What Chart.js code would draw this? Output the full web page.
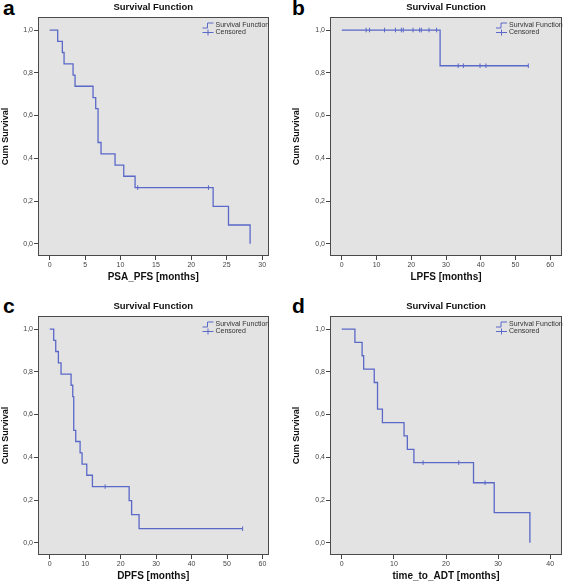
<!DOCTYPE html>
<html>
<head>
<meta charset="utf-8">
<script src="https://cdn.jsdelivr.net/npm/chart.js@4.4.1/dist/chart.umd.min.js"></script>
<style>
  body { margin: 0; background: #fff; overflow: hidden; width: 567px; height: 583px; position: relative; }
  canvas { position: absolute; }
  .tag { position: absolute; font: bold 21px "Liberation Sans", Arial, sans-serif; line-height: 21px; color: #000; }
</style>
</head>
<body>
<div class="tag" style="left:3px;top:-3px">a</div>
<div class="tag" style="left:292px;top:-3px">b</div>
<div class="tag" style="left:3px;top:295px">c</div>
<div class="tag" style="left:292px;top:295px">d</div>
<canvas id="chartA" width="283" height="290" style="left:0;top:0"></canvas>
<canvas id="chartB" width="276" height="290" style="left:291px;top:0"></canvas>
<canvas id="chartC" width="283" height="290" style="left:0;top:299px"></canvas>
<canvas id="chartD" width="276" height="290" style="left:291px;top:299px"></canvas>
<script>
// tick labels
const yTicks = [0, 0.2, 0.4, 0.6, 0.8, 1.0];
const xTicksA = [0, 5, 10, 15, 20, 25, 30];
const xTicksB = [0, 10, 20, 30, 40, 50, 60];
const xTicksC = [0, 10, 20, 30, 40, 50, 60];
const xTicksD = [0, 10, 20, 30, 40];

// a: PSA_PFS
const timeA = [0, 1.13, 1.79, 2.03, 3.3, 3.58, 6.12, 6.5, 6.83, 7.25, 9.23, 10.46, 12.06, 23.08, 25.25, 28.3];
const survA = [1, 0.947, 0.895, 0.842, 0.789, 0.737, 0.684, 0.632, 0.474, 0.421, 0.368, 0.316, 0.263, 0.175, 0.088, 0];
const censTimeA = [12.43, 22.42];
const censSurvA = [0.263, 0.263];

// b: LPFS
const timeB = [0, 28.3, 53.7];
const survB = [1, 0.833, 0.833];
const censTimeB = [7.0, 8.0, 12.3, 15.45, 17.15, 17.7, 20.5, 22.4, 22.9, 25.1, 27.3, 33.5, 35.0, 39.8, 41.5, 53.7];
const censSurvB = [1, 1, 1, 1, 1, 1, 1, 1, 1, 1, 1, 0.833, 0.833, 0.833, 0.833, 0.833];

// c: DPFS
const timeC = [0, 1.13, 1.7, 2.45, 3.2, 6.03, 6.5, 6.78, 7.34, 8.57, 9.13, 10.45, 12.05, 22.4, 23.1, 25.2, 54.4];
const survC = [1, 0.947, 0.895, 0.842, 0.789, 0.737, 0.684, 0.526, 0.474, 0.421, 0.368, 0.316, 0.263, 0.197, 0.132, 0.066, 0.066];
const censTimeC = [15.63, 54.4];
const censSurvC = [0.263, 0.066];

// d: time_to_ADT
const timeD = [0, 2.52, 3.9, 4.2, 6.23, 6.86, 7.8, 11.95, 12.58, 13.84, 25.28, 29.25, 36.1];
const survD = [1, 0.9375, 0.875, 0.8125, 0.75, 0.625, 0.5625, 0.5, 0.4375, 0.375, 0.281, 0.141, 0];
const censTimeD = [15.6, 22.45, 27.5];
const censSurvD = [0.375, 0.375, 0.281];

const lineColor = "#5a68c8";
const fontName = '"Liberation Sans", Arial, sans-serif';

const boxPlugin = {
  id: "boxPlugin",
  beforeDraw(chart) {
    const a = chart.chartArea;
    const ctx = chart.ctx;
    ctx.save();
    ctx.fillStyle = "#e3e3e3";
    ctx.fillRect(a.left, a.top, a.right - a.left, a.bottom - a.top);
    ctx.restore();
  },
  afterDraw(chart) {
    const a = chart.chartArea;
    const ctx = chart.ctx;
    ctx.save();
    ctx.strokeStyle = "#4a4a4a";
    ctx.lineWidth = 1;
    ctx.strokeRect(Math.round(a.left) + 0.5, Math.round(a.top) + 0.5, Math.round(a.right - a.left) - 1, Math.round(a.bottom - a.top) - 1);
    // legend inside top right
    const ix = a.right - 66;
    const tx = a.right - 53;
    const y1 = a.top + 8.5;
    const y2 = a.top + 15.5;
    ctx.strokeStyle = lineColor;
    ctx.lineWidth = 1;
    ctx.beginPath();
    ctx.moveTo(ix, y1 + 2.5);
    ctx.lineTo(ix + 5, y1 + 2.5);
    ctx.lineTo(ix + 5, y1 - 2.5);
    ctx.lineTo(ix + 11, y1 - 2.5);
    ctx.moveTo(ix, y2);
    ctx.lineTo(ix + 11, y2);
    ctx.moveTo(ix + 5.5, y2 - 3);
    ctx.lineTo(ix + 5.5, y2 + 3);
    ctx.stroke();
    ctx.fillStyle = "#333";
    ctx.font = "7px " + fontName;
    ctx.textBaseline = "middle";
    ctx.fillText("Survival Function", tx, y1);
    ctx.fillText("Censored", tx, y2);
    ctx.restore();
  }
};

function makeChart(id, times, surv, censT, censS, xTicks, xMin, xMax, xTitle, yWidth, rightPad) {
  const steps = times.map((t, i) => ({ x: t, y: surv[i] }));
  const cens = censT.map((t, i) => ({ x: t, y: censS[i] }));
  new Chart(document.getElementById(id), {
    type: "line",
    data: {
      datasets: [
        {
          data: steps,
          stepped: "before",
          borderColor: lineColor,
          borderWidth: 1.3,
          pointRadius: 0,
          fill: false
        },
        {
          type: "scatter",
          data: cens,
          pointStyle: "line",
          rotation: 90,
          pointRadius: 2.3,
          borderColor: lineColor,
          borderWidth: 1,
          backgroundColor: lineColor
        }
      ]
    },
    options: {
      responsive: false,
      animation: false,
      events: [],
      layout: { padding: { left: 0, right: rightPad, top: 0, bottom: 0 } },
      plugins: {
        legend: { display: false },
        tooltip: { enabled: false },
        title: {
          display: true,
          text: "Survival Function",
          fullSize: false,
          color: "#111",
          font: { family: fontName, size: 9.5, weight: "bold", lineHeight: 1.2 },
          padding: { top: 1.5, bottom: 4.1 }
        }
      },
      scales: {
        x: {
          type: "linear",
          min: xMin,
          max: xMax,
          afterBuildTicks: s => { s.ticks = xTicks.map(v => ({ value: v })); },
          afterFit: s => { s.height = 34; },
          border: { display: false },
          grid: { drawOnChartArea: false, drawTicks: true, tickLength: 4, color: "#444" },
          ticks: {
            padding: 1,
            color: "#444",
            maxRotation: 0,
            font: { family: fontName, size: 7 },
            callback: v => String(v)
          },
          title: {
            display: true,
            text: xTitle,
            color: "#111",
            font: { family: fontName, size: 10, weight: "bold", lineHeight: 1.2 },
            padding: { top: 0, bottom: 7 }
          }
        },
        y: {
          min: -0.057,
          max: 1.061,
          afterBuildTicks: s => { s.ticks = yTicks.map(v => ({ value: v })); },
          afterFit: s => { s.width = yWidth; },
          border: { display: false },
          grid: { drawOnChartArea: false, drawTicks: true, tickLength: 4, color: "#444" },
          ticks: {
            padding: 1,
            color: "#444",
            font: { family: fontName, size: 7 },
            callback: v => Number(v).toFixed(1).replace(".", ",")
          },
          title: {
            display: true,
            text: "Cum Survival",
            color: "#111",
            font: { family: fontName, size: 9, weight: "bold", lineHeight: 1.2 },
            padding: { top: 0, bottom: 0 }
          }
        }
      }
    },
    plugins: [boxPlugin]
  });
}

makeChart("chartA", timeA, survA, censTimeA, censSurvA, xTicksA, -1.65, 30.9, "PSA_PFS [months]", 38, 14.5);
makeChart("chartB", timeB, survB, censTimeB, censSurvB, xTicksB, -3.4, 63.4, "LPFS [months]", 39, 1);
makeChart("chartC", timeC, survC, censTimeC, censSurvC, xTicksC, -3.3, 61.7, "DPFS [months]", 38, 14.5);
makeChart("chartD", timeD, survD, censTimeD, censSurvD, xTicksD, -2.26, 42.26, "time_to_ADT [months]", 39, 1);
</script>
</body>
</html>
